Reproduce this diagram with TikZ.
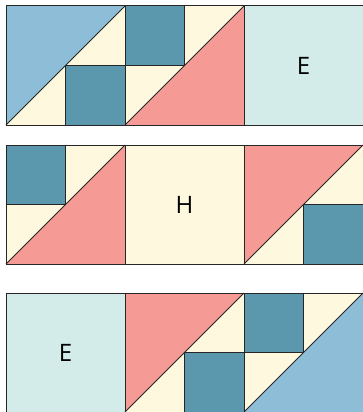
\documentclass[tikz,border=0pt]{standalone}
\usepackage{fontspec}
\setsansfont{Open Sans}
\usepackage{tikz}
\usetikzlibrary{positioning}

\definecolor{quiltblue}{HTML}{8EBED7}
\definecolor{quiltteal}{HTML}{5B98AE}
\definecolor{quiltcream}{HTML}{FEF9DE}
\definecolor{quiltred}{HTML}{F59A95}
\definecolor{quiltmint}{HTML}{D4ECE9}

% patch with the big triangle at the lower right, dark square top left
\newcommand{\patchlow}[3]{%
  \begin{scope}[shift={(#1,#2)}]
    \fill[quiltcream] (0,0) rectangle (119,119);
    \fill[#3] (0,119) -- (119,0) -- (119,119) -- cycle;
    \fill[quiltteal] (0,0) rectangle (59.5,59.5);
    \draw[seam] (0,59.5) -- (59.5,59.5) -- (59.5,0);
    \draw[seam] (0,119) -- (119,0);
    \draw[seam] (0,0) rectangle (119,119);
  \end{scope}}
% patch with the big triangle at the upper left, dark square bottom right
\newcommand{\patchhigh}[3]{%
  \begin{scope}[shift={(#1,#2)}]
    \fill[quiltcream] (0,0) rectangle (119,119);
    \fill[#3] (0,0) -- (119,0) -- (0,119) -- cycle;
    \fill[quiltteal] (59.5,59.5) rectangle (119,119);
    \draw[seam] (59.5,119) -- (59.5,59.5) -- (119,59.5);
    \draw[seam] (0,119) -- (119,0);
    \draw[seam] (0,0) rectangle (119,119);
  \end{scope}}

\begin{document}
\begin{tikzpicture}[
  x=1pt,y=-1pt,
  seam/.style={draw=black!85,line width=1pt},
  plain/.style={rectangle,draw=black!85,line width=1pt,minimum size=119pt,inner sep=0pt,
    font=\sffamily\fontsize{24}{28}\selectfont}]
\useasboundingbox (0,0) rectangle (362,412);
% row 1
\patchhigh{6}{6}{quiltblue}
\patchlow{125}{6}{quiltred}
\node[plain,fill=quiltmint] (etop) at (303.5,65.5) {E};
% row 2
\patchlow{6}{145}{quiltred}
\node[plain,fill=quiltcream] (hmid) at (184.5,204.5) {H};
\patchhigh{244}{145}{quiltred}
% row 3
\node[plain,fill=quiltmint] (ebot) at (65.5,352.5) {E};
\patchhigh{125}{293}{quiltred}
\patchlow{244}{293}{quiltblue}
\end{tikzpicture}
\end{document}
